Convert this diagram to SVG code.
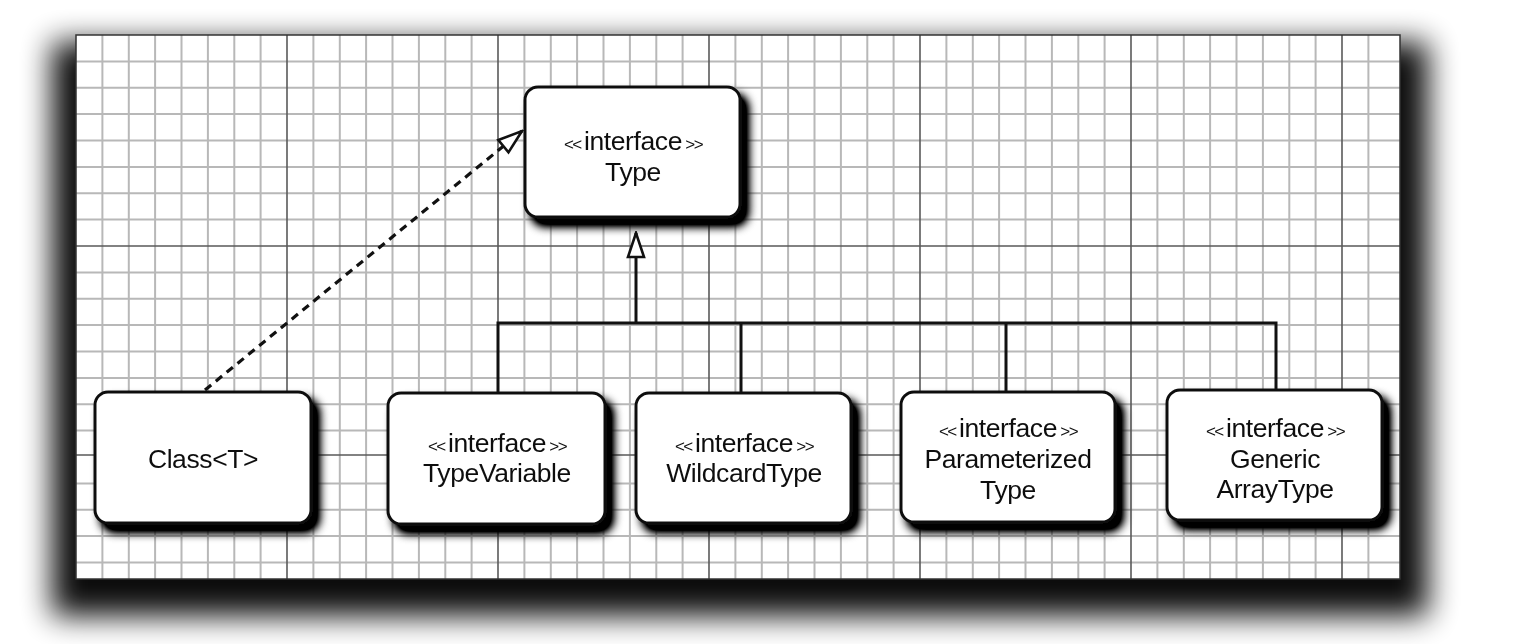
<svg xmlns="http://www.w3.org/2000/svg" width="1516" height="644" viewBox="0 0 1516 644">
  <defs>
    <filter id="panelShadow" x="-10%" y="-20%" width="120%" height="140%">
      <feGaussianBlur stdDeviation="15"/>
    </filter>
    <filter id="nodeShadow" x="-20%" y="-20%" width="150%" height="150%">
      <feGaussianBlur in="SourceAlpha" stdDeviation="5" result="b"/>
      <feOffset in="b" dx="7" dy="8" result="o"/>
      <feComponentTransfer in="o" result="s">
        <feFuncA type="linear" slope="1.5"/>
      </feComponentTransfer>
      <feMerge>
        <feMergeNode in="s"/>
        <feMergeNode in="SourceGraphic"/>
      </feMerge>
    </filter>
    <marker id="hollowTri" viewBox="0 0 28 20" refX="26" refY="10" markerWidth="28" markerHeight="20" markerUnits="userSpaceOnUse" orient="auto">
      <path d="M2,2 L26,10 L2,18 Z" fill="#fff" stroke="#111" stroke-width="2.6" stroke-linejoin="miter"/>
    </marker>
    <style>
      .box { fill: #fff; stroke: #111; stroke-width: 3; }
      .lbl { font-family: "Liberation Sans", Arial, Helvetica, sans-serif; font-size: 26.5px; fill: #111; text-anchor: middle; letter-spacing: -0.4px; }
      .chev { font-size: 17px; letter-spacing: -1.5px; }
      .minor { stroke: #b8b8b8; stroke-width: 2; fill: none; }
      .major { stroke: #5a5a5a; stroke-width: 1.6; fill: none; }
      .conn { stroke: #111; stroke-width: 3; fill: none; }
      .dash { stroke: #111; stroke-width: 3.2; fill: none; stroke-dasharray: 8 6; }
    </style>
  </defs>

  <rect width="1516" height="644" fill="#fff"/>

  <!-- panel with shadow -->
  <g id="panel">
    <rect x="52" y="42" width="1376" height="574" fill="#000" opacity="0.95" filter="url(#panelShadow)"/>
    <rect x="76" y="35" width="1324" height="544" fill="#fff"/>
    <path class="minor" d="M102.4,35V579 M128.8,35V579 M155.1,35V579 M181.5,35V579 M207.9,35V579 M234.3,35V579 M260.6,35V579
      M313.4,35V579 M339.8,35V579 M366.1,35V579 M392.5,35V579 M418.9,35V579 M445.3,35V579 M471.6,35V579
      M524.4,35V579 M550.8,35V579 M577.1,35V579 M603.5,35V579 M629.9,35V579 M656.3,35V579 M682.6,35V579
      M735.4,35V579 M761.8,35V579 M788.1,35V579 M814.5,35V579 M840.9,35V579 M867.3,35V579 M893.6,35V579
      M946.4,35V579 M972.8,35V579 M999.1,35V579 M1025.5,35V579 M1051.9,35V579 M1078.3,35V579 M1104.6,35V579
      M1157.4,35V579 M1183.8,35V579 M1210.1,35V579 M1236.5,35V579 M1262.9,35V579 M1289.3,35V579 M1315.6,35V579
      M1368.4,35V579
      M76,61.4H1400 M76,87.8H1400 M76,114.1H1400 M76,140.5H1400 M76,166.9H1400 M76,193.3H1400 M76,219.6H1400
      M76,272.4H1400 M76,298.8H1400 M76,325.1H1400 M76,351.5H1400 M76,377.9H1400 M76,404.3H1400 M76,430.6H1400
      M76,483.4H1400 M76,509.8H1400 M76,536.1H1400 M76,562.5H1400"/>
    <path class="major" d="M287,35V579 M498,35V579 M709,35V579 M920,35V579 M1131,35V579 M1342,35V579 M76,246H1400 M76,455H1400"/>
    <rect x="76" y="35" width="1324" height="544" fill="none" stroke="#333" stroke-width="1.5"/>
  </g>

  <!-- connectors -->
  <g id="connectors">
    <path class="dash" d="M205,390 L522,131" marker-end="url(#hollowTri)"/>
    <path class="conn" d="M636,323 V233" marker-end="url(#hollowTri)"/>
    <path class="conn" d="M498,393 V323 H1276 V392 M741,323 V393 M1006,323 V392"/>
  </g>

  <!-- nodes -->
  <g id="node-type" filter="url(#nodeShadow)">
    <rect class="box" x="525" y="87" width="215" height="130" rx="13"/>
    <text class="lbl" x="633" y="150"><tspan class="chev">&lt;&lt; </tspan>interface<tspan class="chev"> &gt;&gt;</tspan></text>
    <text class="lbl" x="633" y="181">Type</text>
  </g>

  <g id="node-class" filter="url(#nodeShadow)">
    <rect class="box" x="95" y="392" width="216" height="131" rx="13"/>
    <text class="lbl" x="203" y="468">Class&lt;T&gt;</text>
  </g>

  <g id="node-typevariable" filter="url(#nodeShadow)">
    <rect class="box" x="388" y="393" width="217" height="131" rx="13"/>
    <text class="lbl" x="497" y="452"><tspan class="chev">&lt;&lt; </tspan>interface<tspan class="chev"> &gt;&gt;</tspan></text>
    <text class="lbl" x="497" y="482">TypeVariable</text>
  </g>

  <g id="node-wildcardtype" filter="url(#nodeShadow)">
    <rect class="box" x="636" y="393" width="215" height="130" rx="13"/>
    <text class="lbl" x="744" y="452"><tspan class="chev">&lt;&lt; </tspan>interface<tspan class="chev"> &gt;&gt;</tspan></text>
    <text class="lbl" x="744" y="482">WildcardType</text>
  </g>

  <g id="node-parameterizedtype" filter="url(#nodeShadow)">
    <rect class="box" x="901" y="392" width="214" height="130" rx="13"/>
    <text class="lbl" x="1008" y="437"><tspan class="chev">&lt;&lt; </tspan>interface<tspan class="chev"> &gt;&gt;</tspan></text>
    <text class="lbl" x="1008" y="468">Parameterized</text>
    <text class="lbl" x="1008" y="499">Type</text>
  </g>

  <g id="node-genericarraytype" filter="url(#nodeShadow)">
    <rect class="box" x="1167" y="390" width="215" height="130" rx="13"/>
    <text class="lbl" x="1275" y="437"><tspan class="chev">&lt;&lt; </tspan>interface<tspan class="chev"> &gt;&gt;</tspan></text>
    <text class="lbl" x="1275" y="468">Generic</text>
    <text class="lbl" x="1275" y="498">ArrayType</text>
  </g>
</svg>
